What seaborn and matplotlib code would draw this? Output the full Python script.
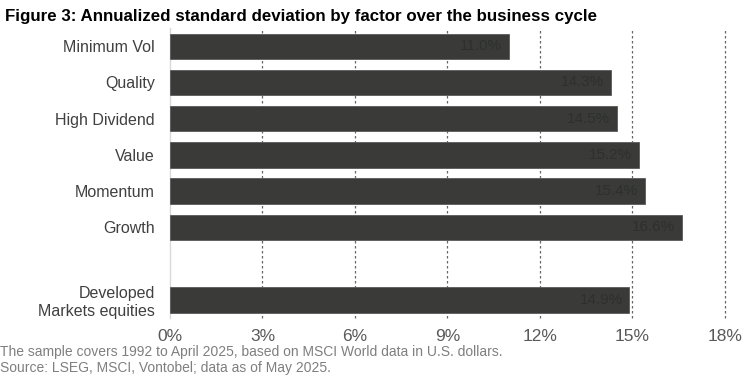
import matplotlib
matplotlib.use("Agg")
import matplotlib.pyplot as plt
import seaborn as sns
import pandas as pd

categories = ["Minimum Vol", "Quality", "High Dividend", "Value", "Momentum", "Growth",
              "Developed\nMarkets equities"]
values = [11.0, 14.3, 14.5, 15.2, 15.4, 16.6, 14.9]
order = ["Minimum Vol", "Quality", "High Dividend", "Value", "Momentum", "Growth", " ",
         "Developed\nMarkets equities"]
xticks = [0, 3, 6, 9, 12, 15, 18]
title = "Figure 3: Annualized standard deviation by factor over the business cycle"
notes = ["The sample covers 1992 to April 2025, based on MSCI World data in U.S. dollars.",
         "Source: LSEG, MSCI, Vontobel; data as of May 2025."]

sns.set_style("white")
plt.rcParams['font.family'] = ['Liberation Sans', 'DejaVu Sans']

df = pd.DataFrame({"factor": categories, "value": values})

fig = plt.figure(figsize=(7.52, 3.75), dpi=100)
ax = fig.add_axes([0.226, 0.152, 0.738, 0.773])
ax.set_axisbelow(True)
sns.barplot(data=df, x="value", y="factor", order=order, color="#3a3b39",
            saturation=1, width=0.7, ax=ax, edgecolor="#5a5a5a", linewidth=0.6,
            zorder=3)

ax.set_xlim(0, 18)
ax.set_ylim(7.5, -0.5)
ax.set_xticks(xticks)
ax.set_xticklabels([f"{t}%" for t in xticks], fontsize=12.5, color="#595959")
ax.tick_params(axis="y", labelsize=11.5, labelcolor="#404040", length=0, pad=11)
ax.tick_params(axis="x", length=0, pad=8)
ax.set_xlabel("")
ax.set_ylabel("")
for t in xticks[1:]:
    ax.axvline(t, color="#666666", linestyle=(0, (2, 2)), linewidth=0.9, zorder=0,
               clip_on=False)
for s in ["top", "right", "bottom"]:
    ax.spines[s].set_visible(False)
ax.spines["left"].set_color("#d9d9d9")
ax.spines["left"].set_linewidth(1.0)

for cat, v in zip(categories, values):
    y = order.index(cat)
    ax.text(v - 0.22, y, f"{v:.1f}%", ha="right", va="center", fontsize=11,
            color="#2e302e", zorder=4)

fig.text(0.006, 0.975, title, ha="left", va="top", fontsize=12.2, fontweight="bold",
         color="#000000")
fig.text(0.0, 0.061, notes[0], ha="left", va="center", fontsize=10, color="#7f7f7f")
fig.text(0.0, 0.019, notes[1], ha="left", va="center", fontsize=10, color="#7f7f7f")

fig.savefig("out.png", dpi=100)
